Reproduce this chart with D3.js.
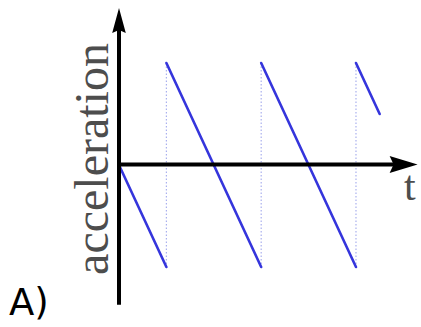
<!DOCTYPE html>
<html>
<head>
<meta charset="utf-8">
<script src="https://cdn.jsdelivr.net/npm/d3@7"></script>
<style>
  html, body { margin: 0; padding: 0; background: #ffffff; }
  svg { display: block; }
</style>
</head>
<body>
<svg id="chart" width="421" height="327"></svg>
<script>
// Sawtooth acceleration: each segment runs linearly from startVal to endVal
const segStart = [0, 1, 3, 5];
const segEnd   = [1, 3, 5, 5.5];
const startVal = [0, 1, 1, 1];
const endVal   = [-1, -1, -1, 0.5];
// Instants of the jumps (dotted guides)
const jumpTimes = [1, 3, 5];
// Axis extents (in data units)
const tAxisMax = 6.3;
const aAxisMin = -1.37;
const aAxisMax = 1.54;
const yLabel = "acceleration";
const xLabel = "t";
const panelLabel = "A)";

const svg = d3.select("#chart");
const x = d3.scaleLinear().domain([0, tAxisMax]).range([119, 417.6]);
const y = d3.scaleLinear().domain([-1, 1]).range([267, 63]);

const blue = "#3535dc";
const guide = "#aab0ee";
const serif = '"Liberation Serif"';
const sans = '"DejaVu Sans"';

// dotted guides at the jumps
svg.selectAll("line.guide").data(jumpTimes).enter().append("line")
  .attr("class", "guide")
  .attr("x1", d => x(d)).attr("x2", d => x(d))
  .attr("y1", y(1)).attr("y2", y(-1))
  .attr("stroke", guide).attr("stroke-width", 1.2)
  .attr("stroke-dasharray", "1.5,2");

// sawtooth segments
const segs = segStart.map((s, i) => ({ t0: s, t1: segEnd[i], v0: startVal[i], v1: endVal[i] }));
svg.selectAll("line.seg").data(segs).enter().append("line")
  .attr("class", "seg")
  .attr("x1", d => x(d.t0)).attr("y1", d => y(d.v0))
  .attr("x2", d => x(d.t1)).attr("y2", d => y(d.v1))
  .attr("stroke", blue).attr("stroke-width", 2.6)
  .attr("stroke-linecap", "round");

// axes
const axisW = 4;
const x0 = x(0), y0 = y(0) - 0.5;
svg.append("line")
  .attr("x1", x0).attr("x2", x0)
  .attr("y1", y(aAxisMin)).attr("y2", y(aAxisMax) + 18)
  .attr("stroke", "#000").attr("stroke-width", axisW);
const yTip = y(aAxisMax);
svg.append("path")
  .attr("d", `M${x0},${yTip} L${x0 + 6.8},${yTip + 25} L${x0},${yTip + 22} L${x0 - 6.8},${yTip + 25} Z`)
  .attr("fill", "#000");
const xTip = x(tAxisMax);
svg.append("line")
  .attr("x1", x0 - axisW / 2).attr("x2", xTip - 18)
  .attr("y1", y0).attr("y2", y0)
  .attr("stroke", "#000").attr("stroke-width", axisW);
svg.append("path")
  .attr("d", `M${xTip},${y0} L${xTip - 28},${y0 - 8.5} L${xTip - 24},${y0} L${xTip - 28},${y0 + 8.5} Z`)
  .attr("fill", "#000");

// y label (rotated)
svg.append("text")
  .attr("x", 0).attr("y", 0)
  .attr("transform", "translate(108,159) rotate(-90)")
  .attr("text-anchor", "middle")
  .attr("font-size", 48)
  .style("font-family", serif)
  .attr("fill", "#4d4d4d")
  .text(yLabel);

// x label
svg.append("text")
  .attr("x", 404).attr("y", 200)
  .attr("font-size", 42)
  .style("font-family", serif)
  .attr("fill", "#4d4d4d")
  .text(xLabel);

// panel label
svg.append("text")
  .attr("x", 9).attr("y", 315)
  .attr("font-size", 37)
  .style("font-family", sans)
  .attr("fill", "#000")
  .text(panelLabel);
</script>
</body>
</html>
